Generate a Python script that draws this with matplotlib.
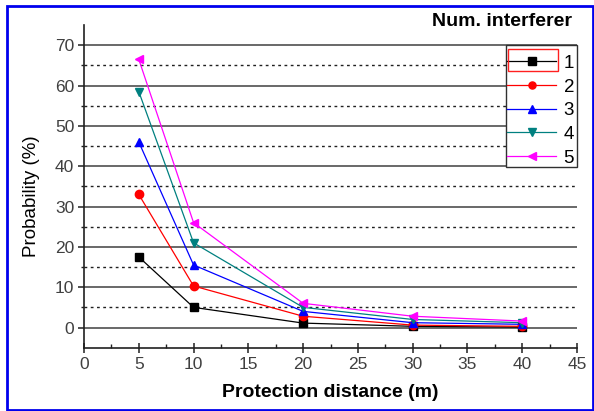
import matplotlib
matplotlib.use("Agg")
import matplotlib.pyplot as plt
from matplotlib.ticker import FixedLocator, MultipleLocator
from matplotlib.patches import Rectangle

distance = [5, 10, 20, 30, 40]
labels = ["1", "2", "3", "4", "5"]
s1 = [17.5, 5.0, 1.1, 0.3, 0.1]
s2 = [33.0, 10.3, 2.8, 0.6, 0.3]
s3 = [46.0, 15.5, 4.0, 1.2, 0.8]
s4 = [58.5, 21.0, 5.0, 2.0, 1.2]
s5 = [66.5, 26.0, 6.0, 2.8, 1.6]
series = [s1, s2, s3, s4, s5]
colors = ["black", "#ff0000", "#0000ff", "#008080", "#ff00ff"]
markers = ["s", "o", "^", "v", "<"]
xticks = [0, 5, 10, 15, 20, 25, 30, 35, 40, 45]
yticks = [0, 10, 20, 30, 40, 50, 60, 70]
ydotted = [5, 15, 25, 35, 45, 55, 65]

plt.rcParams['font.family'] = ['Liberation Sans', 'DejaVu Sans']

fig = plt.figure(figsize=(5.94, 4.11), dpi=100)
W, H = 594, 411
ax = fig.add_axes([84 / W, 1 - 347.7 / H, (577 - 84) / W, (347.7 - 25) / H])

handles = []
for vals, c, m, lab in zip(series, colors, markers, labels):
    h, = ax.plot(distance, vals, color=c, marker=m, markersize=6, linewidth=0.9,
                 label=lab, zorder=3)
    handles.append(h)

ax.set_xlim(0, 45)
ax.set_ylim(-5, 75)
ax.set_xticks(xticks)
ax.set_yticks(yticks)
ax.xaxis.set_minor_locator(MultipleLocator(2.5))
ax.yaxis.set_minor_locator(FixedLocator(ydotted))
ax.grid(which='major', axis='y', color='#404040', linewidth=1.1, linestyle='-')
ax.grid(which='minor', axis='y', color='#202020', linewidth=1.0, linestyle=(0, (2, 2.5)))
ax.set_axisbelow(True)

for sp in ['top', 'right']:
    ax.spines[sp].set_visible(False)
for sp in ['left', 'bottom']:
    ax.spines[sp].set_color('#202020')
    ax.spines[sp].set_linewidth(1.2)

ax.tick_params(axis='x', which='major', direction='inout', length=7, width=1.1,
               labelsize=12.5, labelcolor='#404040', color='#202020', pad=3)
ax.tick_params(axis='x', which='minor', direction='in', length=3, width=1.0, color='#202020')
ax.tick_params(axis='y', which='major', direction='out', length=4, width=1.1,
               labelsize=12.5, labelcolor='#404040', color='#202020', pad=3)
ax.tick_params(axis='y', which='minor', direction='out', length=2, width=1.0, color='#202020')

ax.set_xlabel("Protection distance (m)", fontsize=14, fontweight='bold', labelpad=9)
ax.set_ylabel("Probability (%)", fontsize=13.5)
ax.yaxis.set_label_coords(-0.089, 0.47)

# white legend box (covers gridlines)
fig.patches.append(Rectangle((505.7 / W, 1 - 166.7 / H), 71 / W, 121.7 / H,
                             transform=fig.transFigure, facecolor='white',
                             edgecolor='#303030', linewidth=1.0, zorder=4))

leg = fig.legend(handles=handles, labels=labels, loc='upper right',
                 bbox_to_anchor=(577 / W, 1 - 52 / H),
                 bbox_transform=fig.transFigure, fontsize=13.5, frameon=False,
                 handlelength=2.6, handletextpad=0.4, labelspacing=0.35,
                 borderpad=0.15, borderaxespad=0, markerscale=0.85)
leg.set_zorder(6)

fig.text(572 / W, 1 - 22 / H, "Num. interferer", ha='right', va='center',
         fontsize=14, fontweight='bold')

# red highlight box around first legend entry
fig.patches.append(Rectangle((508 / W, 1 - 71 / H), 50 / W, 22 / H,
                             transform=fig.transFigure, fill=False,
                             edgecolor='#ff2020', linewidth=1.0, zorder=10))
# blue figure border
fig.patches.append(Rectangle((7 / W, 1 - 410 / H), 586 / W, 404 / H,
                             transform=fig.transFigure, fill=False,
                             edgecolor='#0000ee', linewidth=2.0, zorder=10))

fig.savefig("out.png", dpi=100)
